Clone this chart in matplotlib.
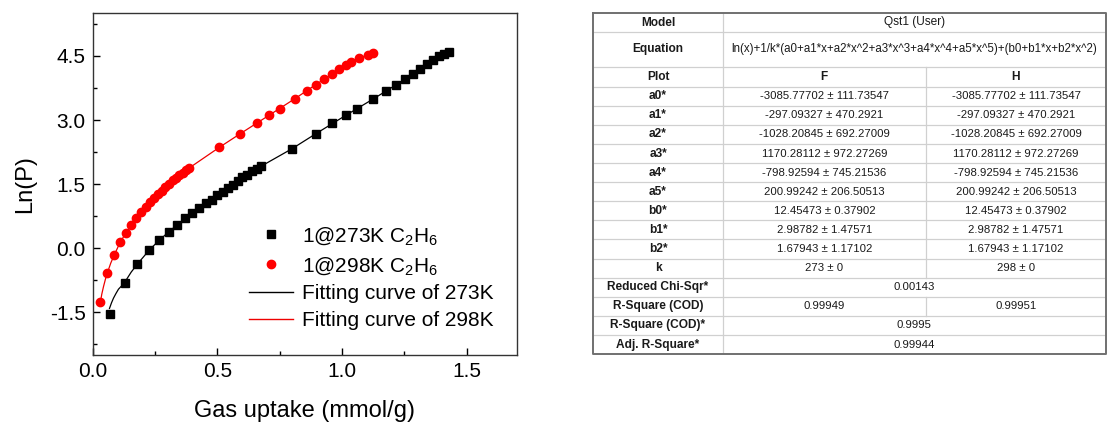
import matplotlib
matplotlib.use('Agg')
import matplotlib.pyplot as plt
from matplotlib.ticker import MultipleLocator

plt.rcParams['font.family'] = ['Liberation Sans', 'DejaVu Sans']
plt.rcParams['mathtext.fontset'] = 'custom'
plt.rcParams['mathtext.rm'] = 'Liberation Sans'
plt.rcParams['mathtext.it'] = 'Liberation Sans:italic'
plt.rcParams['mathtext.default'] = 'regular'
plt.rcParams['axes.unicode_minus'] = False

# ---- isotherm points ----
x273 = [0.071, 0.131, 0.18, 0.228, 0.268, 0.307, 0.34, 0.372, 0.40, 0.428, 0.454,
        0.478, 0.50, 0.522, 0.542, 0.562, 0.582, 0.60, 0.62, 0.639, 0.658, 0.676,
        0.80, 0.895, 0.96, 1.015, 1.06, 1.124, 1.175, 1.218, 1.254, 1.284, 1.314,
        1.342, 1.364, 1.387, 1.407, 1.428]
y273 = [-1.53, -0.82, -0.37, -0.04, 0.19, 0.39, 0.54, 0.70, 0.82, 0.93, 1.05,
        1.14, 1.24, 1.32, 1.41, 1.49, 1.58, 1.66, 1.72, 1.80, 1.86, 1.92,
        2.33, 2.68, 2.92, 3.11, 3.27, 3.49, 3.68, 3.83, 3.97, 4.08, 4.20,
        4.32, 4.41, 4.49, 4.55, 4.59]

x298 = [0.031, 0.06, 0.087, 0.111, 0.134, 0.155, 0.176, 0.195, 0.214, 0.231, 0.247,
        0.263, 0.278, 0.292, 0.307, 0.322, 0.335, 0.348, 0.362, 0.375, 0.388,
        0.508, 0.592, 0.658, 0.707, 0.752, 0.811, 0.858, 0.895, 0.928, 0.96,
        0.988, 1.014, 1.036, 1.07, 1.104, 1.124]
y298 = [-1.27, -0.57, -0.16, 0.14, 0.36, 0.54, 0.71, 0.85, 0.97, 1.09, 1.18,
        1.27, 1.35, 1.44, 1.51, 1.59, 1.65, 1.71, 1.77, 1.83, 1.88,
        2.36, 2.68, 2.92, 3.11, 3.27, 3.50, 3.68, 3.83, 3.97, 4.08,
        4.20, 4.29, 4.37, 4.46, 4.53, 4.58]

# fitted curves
fit273_x = [0.068, 0.076, 0.084, 0.094, 0.104, 0.117, 0.131, 0.155, 0.18, 0.228, 0.268,
            0.307, 0.372, 0.454, 0.542, 0.62, 0.676, 0.80, 0.895, 1.015, 1.124,
            1.218, 1.314, 1.428]
fit273_y = [-1.41, -1.28, -1.17, -1.06, -0.96, -0.88, -0.78, -0.56, -0.37, -0.04, 0.19,
            0.39, 0.70, 1.05, 1.41, 1.72, 1.92, 2.33, 2.68, 3.11, 3.49,
            3.83, 4.20, 4.59]
fit298_x = [0.031, 0.037, 0.044, 0.052, 0.06, 0.073, 0.087, 0.111, 0.134, 0.176, 0.214,
            0.263, 0.307, 0.348, 0.388, 0.508, 0.592, 0.707, 0.811, 0.895, 0.96,
            1.036, 1.124]
fit298_y = [-1.29, -1.08, -0.90, -0.72, -0.57, -0.35, -0.16, 0.14, 0.36, 0.71, 0.97,
            1.27, 1.51, 1.71, 1.88, 2.36, 2.68, 3.11, 3.50, 3.83, 4.08,
            4.37, 4.58]

legend_labels = ['1@273K C$_2$H$_6$', '1@298K C$_2$H$_6$',
                 'Fitting curve of 273K', 'Fitting curve of 298K']

# ---- fit table ----
model_name = 'Qst1 (User)'
equation = 'ln(x)+1/k*(a0+a1*x+a2*x^2+a3*x^3+a4*x^4+a5*x^5)+(b0+b1*x+b2*x^2)'
plot_names = ['F', 'H']
param_names = ['a0*', 'a1*', 'a2*', 'a3*', 'a4*', 'a5*', 'b0*', 'b1*', 'b2*', 'k']
param_F = ['-3085.77702 ± 111.73547', '-297.09327 ± 470.2921', '-1028.20845 ± 692.27009',
           '1170.28112 ± 972.27269', '-798.92594 ± 745.21536', '200.99242 ± 206.50513',
           '12.45473 ± 0.37902', '2.98782 ± 1.47571', '1.67943 ± 1.17102', '273 ± 0']
param_H = ['-3085.77702 ± 111.73547', '-297.09327 ± 470.2921', '-1028.20845 ± 692.27009',
           '1170.28112 ± 972.27269', '-798.92594 ± 745.21536', '200.99242 ± 206.50513',
           '12.45473 ± 0.37902', '2.98782 ± 1.47571', '1.67943 ± 1.17102', '298 ± 0']
stat_names = ['Reduced Chi-Sqr*', 'R-Square (COD)', 'R-Square (COD)*', 'Adj. R-Square*']
stat_F = ['0.00143', '0.99949', '0.9995', '0.99944']
stat_H = [None, '0.99951', None, None]   # None -> merged cell

fig = plt.figure(figsize=(11.08, 4.23), dpi=100)

# ================= chart =================
ax = fig.add_axes([0.0835, 0.1608, 0.3828, 0.8078])
ax.plot(fit273_x, fit273_y, '-', color='black', lw=0.9)
ax.plot(fit298_x, fit298_y, '-', color='#ee0000', lw=0.9)
sq, = ax.plot(x273, y273, 's', color='black', ms=5.4, lw=0)
ci, = ax.plot(x298, y298, 'o', color='#ff0000', ms=6, lw=0)
l1, = ax.plot([], [], '-', color='black', lw=1)
l2, = ax.plot([], [], '-', color='#ee0000', lw=1)

ax.set_xlim(0, 1.7)
ax.set_ylim(-2.5, 5.5)
ax.xaxis.set_major_locator(MultipleLocator(0.5))
ax.xaxis.set_minor_locator(MultipleLocator(0.25))
ax.set_yticks([-1.5, 0.0, 1.5, 3.0, 4.5])
ax.set_yticks([-2.25, -0.75, 0.75, 2.25, 3.75, 5.25], minor=True)
ax.tick_params(which='both', direction='in', labelsize=15, width=1, pad=5)
ax.tick_params(which='major', length=5)
ax.tick_params(which='minor', length=3)
for s in ax.spines.values():
    s.set_linewidth(1)
    s.set_color('#333333')

ax.set_xlabel('Gas uptake (mmol/g)', fontsize=17, labelpad=14)
ax.set_ylabel('Ln(P)', fontsize=17, labelpad=10)

ax.legend([sq, ci, l1, l2], legend_labels, loc='lower left',
          bbox_to_anchor=(0.37, 0.072), frameon=False, fontsize=15,
          borderpad=0, borderaxespad=0, handlelength=2.1, handletextpad=0.4,
          labelspacing=0.38)

# ================= table =================
tw, th = 512.7, 340.7
tab = fig.add_axes([593.3 / 1108, 1 - 354 / 423, tw / 1108, th / 423])
tab.set_xlim(0, tw)
tab.set_ylim(th, 0)
tab.axis('off')

col_edges = [0, 129.4, 332.7, tw]
row_h = [18.4, 35, 20] + [19.1] * 14
row_edges = [0]
for h in row_h:
    row_edges.append(row_edges[-1] + h)

grid_c = '#d0d0d0'
txt_c = '#1a1a1a'
fs = 8.2
fs_lab = 8.6

# horizontal grid lines
for yy in row_edges[1:-1]:
    tab.plot([0, tw], [yy, yy], color=grid_c, lw=0.9)
# first column divider
tab.plot([col_edges[1]] * 2, [0, th], color=grid_c, lw=0.9)

label_rows = ['Model', 'Equation', 'Plot'] + param_names + stat_names
c_label = (col_edges[0] + col_edges[1]) / 2
c_F = (col_edges[1] + col_edges[2]) / 2
c_H = (col_edges[2] + col_edges[3]) / 2
c_merge = (col_edges[1] + col_edges[3]) / 2

def yc(i):
    return (row_edges[i] + row_edges[i + 1]) / 2

for i, lab in enumerate(label_rows):
    tab.text(c_label, yc(i), lab, ha='center', va='center', fontsize=fs_lab,
             fontweight='bold', color=txt_c)

tab.text(c_merge, yc(0), model_name, ha='center', va='center', fontsize=fs_lab, color=txt_c)
tab.text(c_merge, yc(1), equation, ha='center', va='center', fontsize=8.3, color=txt_c)
tab.text(c_F, yc(2), plot_names[0], ha='center', va='center', fontsize=fs_lab,
         fontweight='bold', color=txt_c)
tab.text(c_H, yc(2), plot_names[1], ha='center', va='center', fontsize=fs_lab,
         fontweight='bold', color=txt_c)

for j in range(len(param_names)):
    i = 3 + j
    tab.text(c_F, yc(i), param_F[j], ha='center', va='center', fontsize=fs, color=txt_c)
    tab.text(c_H, yc(i), param_H[j], ha='center', va='center', fontsize=fs, color=txt_c)
# second column divider over the parameter rows
tab.plot([col_edges[2]] * 2, [row_edges[2], row_edges[3 + len(param_names)]],
         color=grid_c, lw=0.9)

for j in range(len(stat_names)):
    i = 3 + len(param_names) + j
    if stat_H[j] is None:
        tab.text(c_merge, yc(i), stat_F[j], ha='center', va='center', fontsize=fs, color=txt_c)
    else:
        tab.text(c_F, yc(i), stat_F[j], ha='center', va='center', fontsize=fs, color=txt_c)
        tab.text(c_H, yc(i), stat_H[j], ha='center', va='center', fontsize=fs, color=txt_c)
        tab.plot([col_edges[2]] * 2, [row_edges[i], row_edges[i + 1]], color=grid_c, lw=0.9)

# outer border
tab.plot([0, tw, tw, 0, 0], [0, 0, th, th, 0], color='#707070', lw=1.4, clip_on=False)

fig.savefig('out.png', dpi=100)
